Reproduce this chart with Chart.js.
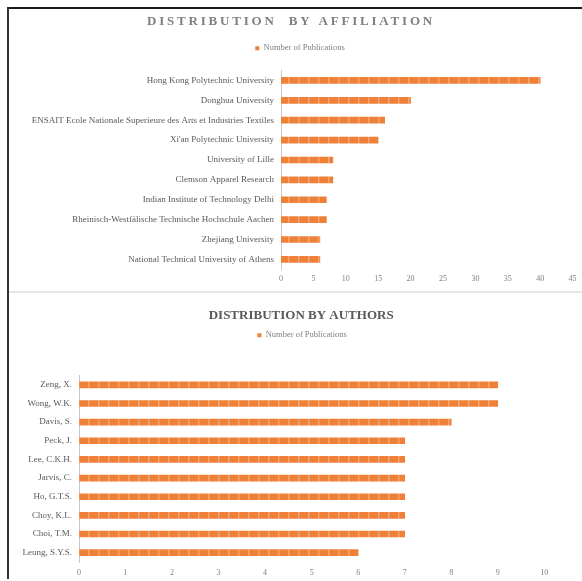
<!DOCTYPE html>
<html><head><meta charset="utf-8">
<script src="https://cdn.jsdelivr.net/npm/chart.js@4"></script>
<style>
html,body{margin:0;padding:0;background:#fff;}
#wrap{position:relative;width:582px;height:581px;overflow:hidden;background:#fff;}
canvas{position:absolute;left:0;}
#c1{top:0;}
#c2{top:293px;}
.ln{position:absolute;}
</style></head><body>
<div id="wrap">
<canvas id="c1" width="582" height="291" style="width:582px;height:291px"></canvas>
<canvas id="c2" width="582" height="288" style="width:582px;height:288px"></canvas>
<div class="ln" style="left:7px;top:7px;width:575px;height:2px;background:#1a1a1a"></div>
<div class="ln" style="left:7px;top:7px;width:2px;height:572px;background:#333"></div>
<div class="ln" style="left:9px;top:291px;width:573px;height:2px;background:#e6e6e6"></div>
</div>
<script>
// ---- data ----
const affiliationTitle = 'DISTRIBUTION  BY AFFILIATION';
const authorTitle = 'DISTRIBUTION BY AUTHORS';
const seriesName = 'Number of Publications';
const affiliations = [
  'Hong Kong Polytechnic University',
  'Donghua University',
  'ENSAIT Ecole Nationale Superieure des Arts et Industries Textiles',
  "Xi'an Polytechnic University",
  'University of Lille',
  'Clemson Apparel Research',
  'Indian Institute of Technology Delhi',
  'Rheinisch-Westfälische Technische Hochschule Aachen',
  'Zhejiang University',
  'National Technical University of Athens'
];
const affiliationPubs = [40, 20, 16, 15, 8, 8, 7, 7, 6, 6];
const affiliationAxisMax = 45;
const affiliationAxisStep = 5;

const authors = ['Zeng, X.', 'Wong, W.K.', 'Davis, S.', 'Peck, J.', 'Lee, C.K.H.', 'Jarvis, C.', 'Ho, G.T.S.', 'Choy, K.L.', 'Choi, T.M.', 'Leung, S.Y.S.'];
const authorPubs = [9, 9, 8, 7, 7, 7, 7, 7, 7, 6];
const authorAxisMax = 10;
const authorAxisStep = 1;

// ---- styling ----
const SERIF = "'Liberation Serif', 'Times New Roman', serif";
const ORANGE = '#EE8038';

function barPattern() {
  const t = document.createElement('canvas');
  t.width = 10; t.height = 6;
  const g = t.getContext('2d');
  g.fillStyle = ORANGE; g.fillRect(0, 0, 10, 6);
  g.fillStyle = '#F3A470'; g.fillRect(8, 0, 1.5, 6);
  return g.createPattern(t, 'repeat');
}

const legendGap = {
  id: 'legendGap',
  afterInit(chart, args, opts) {
    const lg = chart.legend;
    if (!lg) return;
    const f = lg.fit.bind(lg);
    lg.fit = function () { f(); this.height += opts.extra || 0; };
    const d = lg.draw.bind(lg);
    lg.draw = function () {
      const c = chart.ctx; c.save(); c.translate(opts.dx || 0, 0); d(); c.restore();
    };
  },
  beforeDraw(chart, args, opts) {
    const tb = chart.titleBlock;
    if (tb && !tb._patched) {
      const d = tb.draw.bind(tb);
      tb.draw = function () {
        const c = chart.ctx; c.save();
        c.translate(opts.titleDx || 0, 0);
        c.letterSpacing = (opts.spacing || 0) + 'px';
        d(); c.restore();
      };
      tb._patched = true;
    }
  }
};

function makeChart(id, title, titleColor, spacing, labels, values, max, step, cfg) {
  return new Chart(document.getElementById(id), {
    type: 'bar',
    data: {
      labels: labels,
      datasets: [{ label: seriesName, data: values, backgroundColor: barPattern(), barThickness: 6, borderWidth: 0 }]
    },
    plugins: [legendGap],
    options: {
      indexAxis: 'y',
      responsive: false,
      animation: false,
      layout: { padding: { left: cfg.left, right: cfg.right, top: 0, bottom: 0 } },
      plugins: {
        legendGap: { extra: cfg.extra, spacing: spacing, dx: cfg.legendDx, titleDx: cfg.titleDx },
        tooltip: { enabled: false },
        title: {
          display: true, text: title, color: titleColor,
          font: { family: SERIF, size: 13, weight: 'bold' },
          padding: { top: cfg.tTop, bottom: cfg.tBot }
        },
        legend: {
          display: true, position: 'top',
          labels: {
            boxWidth: 4, boxHeight: 4, padding: 6, color: '#7f7f7f', font: { family: SERIF, size: 8.5 },
            generateLabels: (ch) => [{ text: seriesName, fillStyle: ORANGE, strokeStyle: ORANGE, lineWidth: 0, fontColor: '#7f7f7f', datasetIndex: 0 }]
          }
        }
      },
      scales: {
        y: {
          grid: { display: false, drawTicks: false },
          border: { display: true, color: '#c8c8c8', width: 1 },
          ticks: { autoSkip: false, padding: 7, color: '#595959', font: { family: SERIF, size: 9 } },
          afterFit(s) { s.width = cfg.axisX - cfg.left; }
        },
        x: {
          min: 0, max: max,
          grid: { display: false, drawTicks: false },
          border: { display: false },
          ticks: { stepSize: step, padding: cfg.xPad, color: '#808080', font: { family: SERIF, size: 8 } },
          afterFit(s) { s.height = cfg.xH; }
        }
      }
    }
  });
}

makeChart('c1', affiliationTitle, '#7f7f7f', 2.8, affiliations, affiliationPubs, affiliationAxisMax, affiliationAxisStep,
  { left: 9.4, right: 9.4, legendDx: 9, titleDx: 0, extra: 8, tTop: 14.2, tBot: 8.2, axisX: 281, xPad: 5, xH: 21.7 });
makeChart('c2', authorTitle, '#595959', 0, authors, authorPubs, authorAxisMax, authorAxisStep,
  { left: 0, right: 37.7, legendDx: 30, titleDx: 29, extra: 26, tTop: 15.2, tBot: 1.2, axisX: 79, xPad: 6, xH: 19 });
</script>
</body></html>
